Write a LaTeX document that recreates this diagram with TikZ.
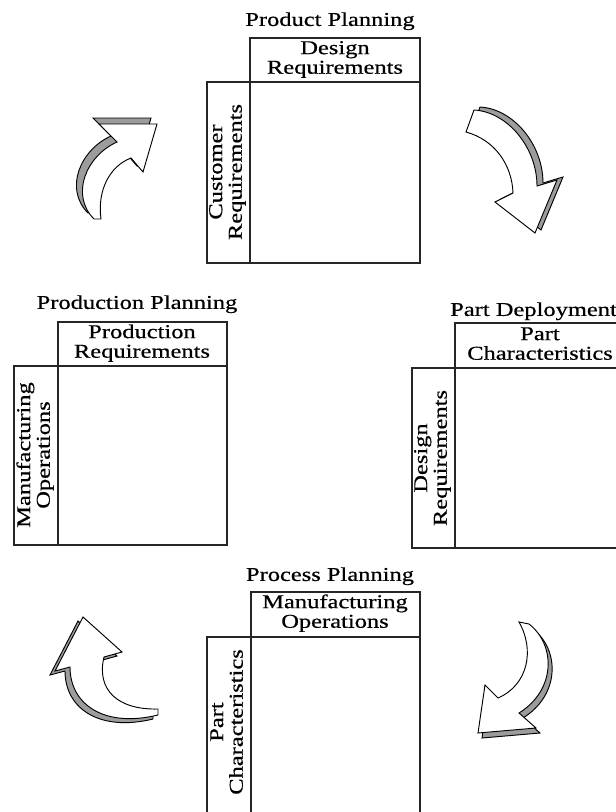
\documentclass[tikz,border=0pt]{standalone}
\usepackage{fontspec}
\setmainfont{Liberation Serif}
\newfontfamily\qfdfont[FakeBold=0.5]{Liberation Serif}
\usepackage{graphicx}
\definecolor{arrowgray}{HTML}{9C9C9C}
\newcommand{\labfont}{\qfdfont\fontsize{20.9}{20.9}\selectfont}
% squashed two-line label
\newcommand{\sq}[1]{\scalebox{1}[0.8]{\begin{tabular}{@{}c@{}}#1\end{tabular}}}
\begin{document}
\begin{tikzpicture}[
    x=0.03cm, y=-0.03cm,
    box/.style={draw=black!85, line width=1.3pt},
    lab/.style={font=\labfont, inner sep=0pt, align=center},
    side/.style={lab, rotate=90},
    face/.style={draw=black, line width=0.8pt, fill=white, line join=miter},
    shade/.style={draw=black, line width=0.8pt, fill=arrowgray, line join=miter}
]
\useasboundingbox (0,0) rectangle (616,812);
\clip (0,0) rectangle (616,812);

% Product Planning
\draw[box] (250,38) rectangle (420,82);
\draw[box] (250,82) rectangle (420,263);
\draw[box] (207,82) rectangle (250,263);
\node[lab] (ppt) at (330,22) {\sq{Product Planning}};
\node[lab] (pph) at (335,60) {\sq{Design\\Requirements}};
\node[side] (pps) at (228,172) {\sq{Customer\\Requirements}};

% Production Planning
\draw[box] (58,322) rectangle (227,366);
\draw[box] (58,366) rectangle (227,545);
\draw[box] (14,366) rectangle (58,545);
\node[lab] (prt) at (137,305) {\sq{Production Planning}};
\node[lab] (prh) at (142,344) {\sq{Production\\Requirements}};
\node[side] (prs) at (36,455) {\sq{Manufacturing\\Operations}};

% Part Deployment
\draw[box] (455,323) rectangle (625,368);
\draw[box] (455,368) rectangle (625,548);
\draw[box] (412,368) rectangle (455,548);
\node[lab, anchor=west] (pdt) at (450,312) {\sq{Part Deployment}};
\node[lab] (pdh) at (540,346) {\sq{Part\\Characteristics}};
\node[side] (pds) at (433,458) {\sq{Design\\Requirements}};

% Process Planning
\draw[box] (251,592) rectangle (420,637);
\draw[box] (251,637) rectangle (420,820);
\draw[box] (207,637) rectangle (251,820);
\node[lab] (pct) at (330,577) {\sq{Process Planning}};
\node[lab] (pch) at (335,614) {\sq{Manufacturing\\Operations}};
\node[side] (pcs) at (229,722) {\sq{Part\\Characteristics}};

% curved arrows
\def\arrowa{(101,219) .. controls (97,190) and (110,166) .. (131,158) -- (143,172)
  -- (157,124) -- (99,124) -- (117,142) .. controls (86,156) and (70,195) .. (94,219) -- cycle}
\def\arrowb{(466,132) .. controls (495,140) and (512,165) .. (513,193) -- (495,202)
  -- (535,233) -- (557,180) -- (537,186) .. controls (537,148) and (508,112) .. (474,110) -- cycle}
\def\arrowc{(519,622) .. controls (535,650) and (528,685) .. (498,698) -- (485,685)
  -- (478,733) -- (536,728) -- (519,713) .. controls (556,690) and (556,645) .. (529,624) -- cycle}
\def\arrowd{(158,709) .. controls (118,710) and (96,690) .. (104,657) -- (122,652)
  -- (83,617) -- (55,671) -- (70,667) .. controls (70,705) and (105,728) .. (158,715) -- cycle}

\draw[shade, shift={(-6,-6)}] \arrowa;
\draw[face] \arrowa;
\draw[shade, shift={(6,-3)}] \arrowb;
\draw[face] \arrowb;
\draw[shade, shift={(4,5)}] \arrowc;
\draw[face] \arrowc;
\draw[shade, shift={(-5,4)}] \arrowd;
\draw[face] \arrowd;
\end{tikzpicture}
\end{document}
